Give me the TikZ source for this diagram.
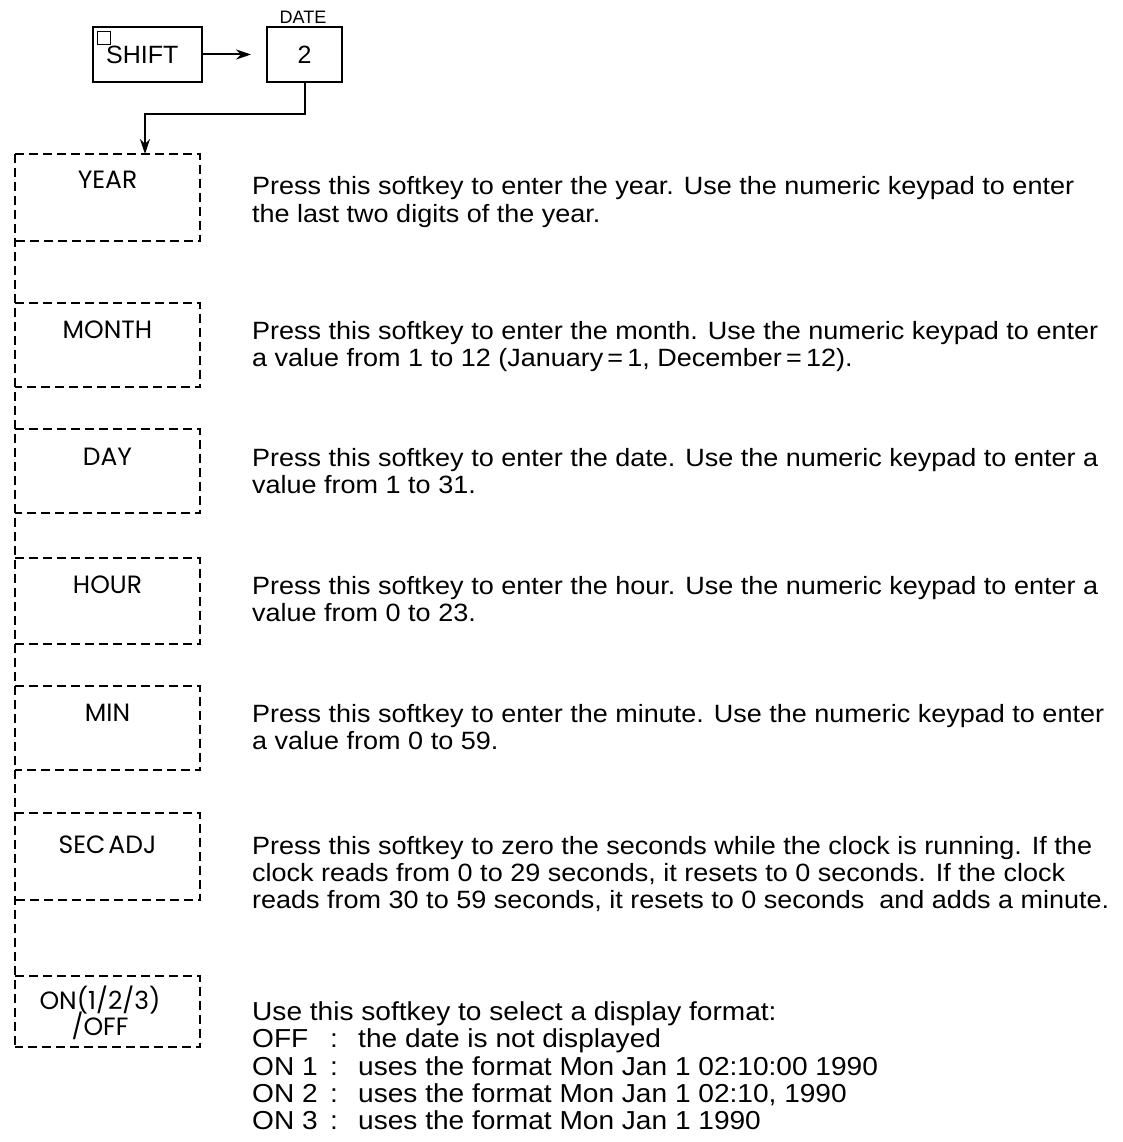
\documentclass[tikz,border=0pt]{standalone}
\usepackage{fontspec}
\setmainfont{Liberation Sans}
\newfontfamily\descfont{Liberation Sans}[FakeStretch=1.08]
\newfontfamily\keyfont{Poppins}
\usetikzlibrary{arrows.meta}
\begin{document}
\begin{tikzpicture}[x=1pt,y=-1pt,
  desc/.style={anchor=base west,inner sep=0pt,font=\descfont\fontsize{25}{28}\selectfont},
  fmt/.style={anchor=base west,inner sep=0pt,font=\descfont\fontsize{26}{28}\selectfont},
  keylab/.style={anchor=base,inner sep=0pt,font=\keyfont\fontsize{25}{28}\selectfont},
  softbox/.style={draw=none,inner sep=0pt,anchor=north west,minimum width=185pt},
  softline/.style={line width=2pt,dash pattern=on 9pt off 5pt},
  hardkey/.style={draw,line width=2pt,inner sep=0pt,minimum height=55pt},
  link/.style={line width=2pt,-{Stealth[length=15pt,width=10pt]}},
]
\useasboundingbox (0,0) rectangle (1122,1142);

% hard keys
\node[hardkey,minimum width=109pt] (shift) at (147.5,54.5) {};
\node[anchor=base west,inner sep=0pt,font=\fontsize{25}{25}\selectfont] (shifttext) at (106,64) {SHIFT};
\node[draw,line width=1.2pt,minimum size=13pt,inner sep=0pt,anchor=north west] (shiftmark) at (97,31) {};
\node[hardkey,minimum width=75pt,font=\fontsize{25}{25}\selectfont] (two) at (304.5,54.5) {2};
\node[anchor=base,inner sep=0pt,font=\fontsize{18}{18}\selectfont] (date) at (303,24) {DATE};
\draw[link] (shift.east) -- ([xshift=-15pt]two.west);

% softkey boxes
\node[softbox,minimum height=87pt] (year)  at (15,154) {};
\node[softbox,minimum height=84pt] (month) at (15,303) {};
\node[softbox,minimum height=84pt] (day)   at (15,429) {};
\node[softbox,minimum height=86pt] (hour)  at (15,558) {};
\node[softbox,minimum height=84pt] (min)   at (15,686) {};
\node[softbox,minimum height=87pt] (sec)   at (15,813) {};
\node[softbox,minimum height=71pt] (onoff) at (15,976) {};
\foreach \b in {year,month,day,hour,min,sec,onoff}
  \draw[softline] (\b.north west) -| (\b.south east) -- (\b.south west);
\draw[softline] (year.north west) -- (onoff.south west);

\coordinate (entry) at (145,154);
\draw[link] (two.south) -- ++(0,31) -| (entry);

\node[keylab] (yearlab)  at (107.5,189) {YEAR};
\node[keylab] (monthlab) at (107.5,338) {MONTH};
\node[keylab] (daylab)   at (107.5,465) {DAY};
\node[keylab] (hourlab)  at (107.5,593) {HOUR};
\node[keylab] (minlab)   at (107.5,721) {MIN};
\node[keylab] (seclab)   at (107.5,853) {SEC\hspace{0.12em}ADJ};
\node[keylab] (onlab)    at (100,1009) {ON(1/2/3)};
\node[keylab] (offlab)   at (100,1035) {/OFF};

% descriptions
\node[desc] (y1) at (252,194) {Press this softkey to enter the year. Use the numeric keypad to enter};
\node[desc] (y2) at (252,222) {the last two digits of the year.};
\node[desc] (m1) at (252,339) {Press this softkey to enter the month. Use the numeric keypad to enter};
\node[desc] (m2) at (252,366) {a value from 1 to 12 (January\,=\,1, December\,=\,12).};
\node[desc] (d1) at (252,466) {Press this softkey to enter the date. Use the numeric keypad to enter a};
\node[desc] (d2) at (252,493) {value from 1 to 31.};
\node[desc] (h1) at (252,594) {Press this softkey to enter the hour. Use the numeric keypad to enter a};
\node[desc] (h2) at (252,621) {value from 0 to 23.};
\node[desc] (n1) at (252,722) {Press this softkey to enter the minute. Use the numeric keypad to enter};
\node[desc] (n2) at (252,749) {a value from 0 to 59.};
\node[desc] (s1) at (252,854) {Press this softkey to zero the seconds while the clock is running. If the};
\node[desc] (s2) at (252,881) {clock reads from 0 to 29 seconds, it resets to 0 seconds. If the clock};
\node[desc] (s3) at (252,908) {reads from 30 to 59 seconds, it resets to 0 seconds\ \ and adds a minute.};
\node[fmt] (o0) at (252,1020) {Use this softkey to select a display format:};
\node[fmt] (o1k) at (252,1047) {OFF};
\node[fmt] (o1c) at (330,1047) {:};
\node[fmt] (o1t) at (358,1047) {the date is not displayed};
\node[fmt] (o2k) at (252,1075) {ON 1};
\node[fmt] (o2c) at (330,1075) {:};
\node[fmt] (o2t) at (358,1075) {uses the format Mon Jan 1 02:10:00 1990};
\node[fmt] (o3k) at (252,1102) {ON 2};
\node[fmt] (o3c) at (330,1102) {:};
\node[fmt] (o3t) at (358,1102) {uses the format Mon Jan 1 02:10, 1990};
\node[fmt] (o4k) at (252,1129) {ON 3};
\node[fmt] (o4c) at (330,1129) {:};
\node[fmt] (o4t) at (358,1129) {uses the format Mon Jan 1 1990};
\end{tikzpicture}
\end{document}
